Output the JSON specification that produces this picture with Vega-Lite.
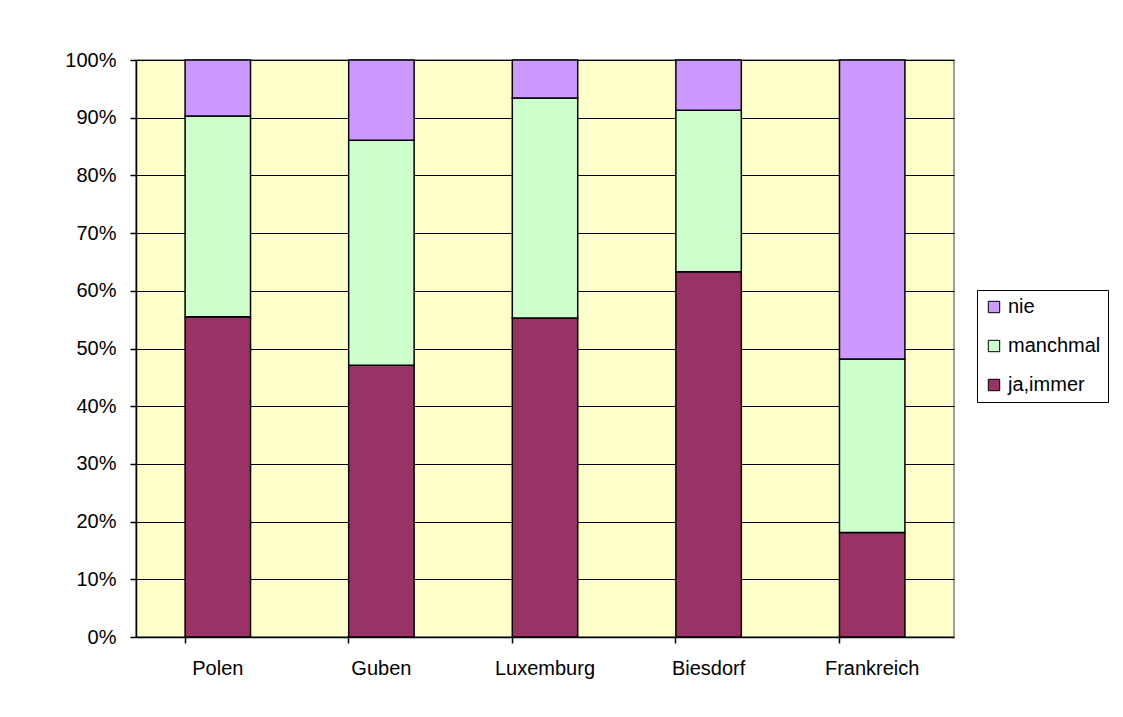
{
  "$schema": "https://vega.github.io/schema/vega-lite/v6.json",
  "autosize": {"type": "none"},
  "padding": {"left": 136, "top": 60, "right": 169, "bottom": 80},
  "width": 818,
  "height": 577,
  "background": "white",
  "data": {
    "values": [
      {"ort": "Polen", "antwort": "ja,immer", "wert": 55.5, "ord": 1},
      {"ort": "Polen", "antwort": "manchmal", "wert": 34.8, "ord": 2},
      {"ort": "Polen", "antwort": "nie", "wert": 9.7, "ord": 3},
      {"ort": "Guben", "antwort": "ja,immer", "wert": 47.1, "ord": 1},
      {"ort": "Guben", "antwort": "manchmal", "wert": 39.0, "ord": 2},
      {"ort": "Guben", "antwort": "nie", "wert": 13.9, "ord": 3},
      {"ort": "Luxemburg", "antwort": "ja,immer", "wert": 55.3, "ord": 1},
      {"ort": "Luxemburg", "antwort": "manchmal", "wert": 38.1, "ord": 2},
      {"ort": "Luxemburg", "antwort": "nie", "wert": 6.6, "ord": 3},
      {"ort": "Biesdorf", "antwort": "ja,immer", "wert": 63.3, "ord": 1},
      {"ort": "Biesdorf", "antwort": "manchmal", "wert": 28.0, "ord": 2},
      {"ort": "Biesdorf", "antwort": "nie", "wert": 8.7, "ord": 3},
      {"ort": "Frankreich", "antwort": "ja,immer", "wert": 18.1, "ord": 1},
      {"ort": "Frankreich", "antwort": "manchmal", "wert": 30.1, "ord": 2},
      {"ort": "Frankreich", "antwort": "nie", "wert": 51.8, "ord": 3}
    ]
  },
  "mark": {"type": "bar", "stroke": "black", "strokeWidth": 1.5},
  "encoding": {
    "x": {
      "field": "ort",
      "type": "nominal",
      "sort": ["Polen", "Guben", "Luxemburg", "Biesdorf", "Frankreich"],
      "scale": {"paddingInner": 0.6, "paddingOuter": 0.3},
      "axis": {
        "title": null,
        "labelAngle": 0,
        "bandPosition": 0,
        "domainColor": "black",
        "tickColor": "black",
        "tickSize": 6,
        "labelPadding": 15,
        "labelColor": "black",
        "labelFont": "Liberation Sans",
        "labelFontSize": 20,
        "grid": false
      }
    },
    "y": {
      "field": "wert",
      "type": "quantitative",
      "stack": "normalize",
      "scale": {"domain": [0, 1]},
      "axis": {
        "title": null,
        "format": ".0%",
        "values": [0, 0.1, 0.2, 0.3, 0.4, 0.5, 0.6, 0.7, 0.8, 0.9, 1],
        "domainColor": "black",
        "tickColor": "black",
        "tickSize": 6,
        "labelPadding": 14,
        "labelColor": "black",
        "labelFont": "Liberation Sans",
        "labelFontSize": 20,
        "grid": true,
        "gridColor": "black",
        "gridOpacity": 1,
        "gridWidth": 1
      }
    },
    "color": {
      "field": "antwort",
      "type": "nominal",
      "scale": {
        "domain": ["nie", "manchmal", "ja,immer"],
        "range": ["#CC99FF", "#CCFFCC", "#993366"]
      },
      "legend": {
        "title": null,
        "orient": "none",
        "legendX": 841,
        "legendY": 230,
        "symbolType": "square",
        "symbolSize": 130,
        "symbolStrokeColor": "black",
        "symbolStrokeWidth": 1,
        "symbolOpacity": 1,
        "labelFont": "Liberation Sans",
        "labelFontSize": 20,
        "labelColor": "black",
        "labelOffset": 4,
        "rowPadding": 19,
        "padding": 7,
        "strokeColor": "black",
        "fillColor": "white"
      }
    },
    "order": {"field": "ord", "type": "quantitative"}
  },
  "config": {
    "view": {"fill": "#FFFFCC", "stroke": "#808080", "strokeWidth": 1.5},
    "axis": {"domainWidth": 1.5, "tickWidth": 1.5}
  }
}
